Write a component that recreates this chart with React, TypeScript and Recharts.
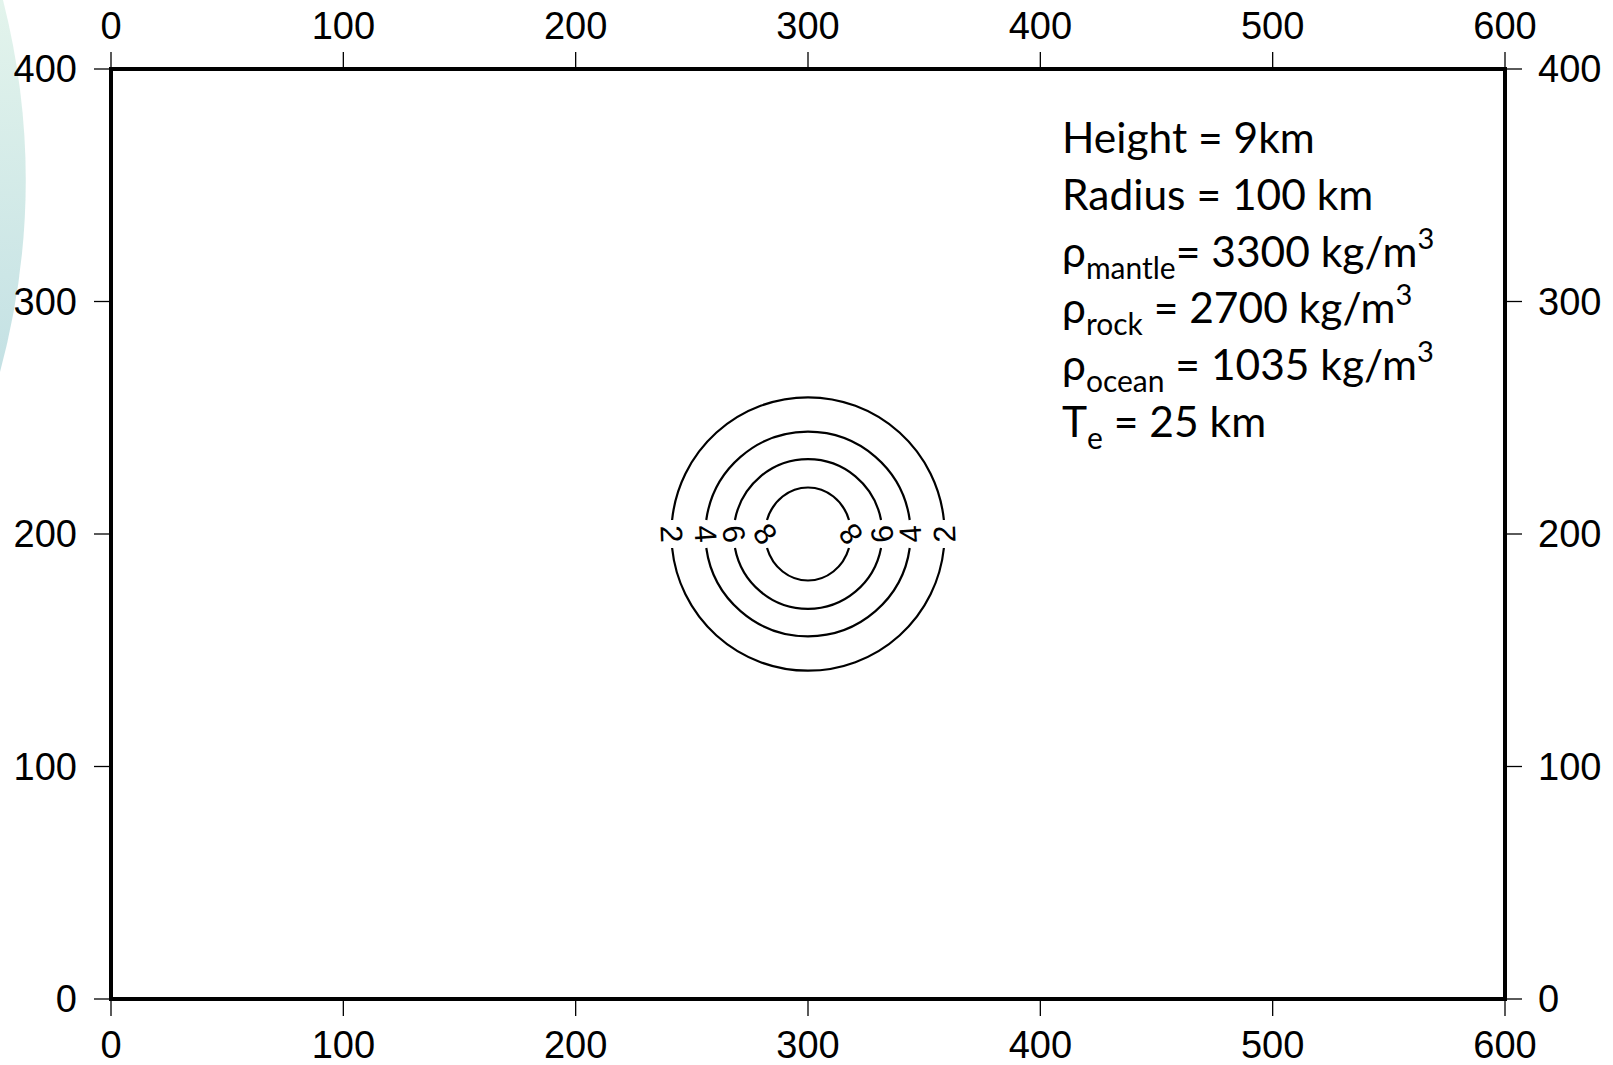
import { Scatter, ScatterChart, XAxis, YAxis } from "recharts";

// axes (km)
const xTicks = [0, 100, 200, 300, 400, 500, 600];
const yTicks = [0, 100, 200, 300, 400];
const xDomain = [0, 600];
const yDomain = [0, 400];

// contours of the seamount (km)
const contourLevels = [2, 4, 6, 8];
const contourRadiusX = [58.8, 44.2, 32, 18.5];
const contourRadiusY = [58.8, 44, 32.2, 20];
const centerX = [300, 300, 300, 300];
const centerY = [200, 200, 200, 200];

const annotationLines = [
  [{ t: "Height = 9km" }],
  [{ t: "Radius = 100 km" }],
  [{ t: "ρ" }, { t: "mantle", sub: true }, { t: "= 3300 kg/m" }, { t: "3", sup: true }],
  [{ t: "ρ" }, { t: "rock", sub: true }, { t: " = 2700 kg/m" }, { t: "3", sup: true }],
  [{ t: "ρ" }, { t: "ocean", sub: true }, { t: " = 1035 kg/m" }, { t: "3", sup: true }],
  [{ t: "T" }, { t: "e", sub: true }, { t: " = 25 km" }],
];

const contours = contourLevels.map((level, i) => ({
  x: centerX[i],
  y: centerY[i],
  level,
  rx: contourRadiusX[i],
  ry: contourRadiusY[i],
}));

const W = 1613;
const H = 1065;
const LEFT_W = 111;
const RIGHT_W = 108;
const TOP_H = 69;
const BOTTOM_H = 66;
const PX_X = (W - LEFT_W - RIGHT_W) / (xDomain[1] - xDomain[0]);
const PX_Y = (H - TOP_H - BOTTOM_H) / (yDomain[1] - yDomain[0]);

const tickFont = { fill: "#000", fontSize: 38, fontFamily: '"Liberation Sans", Arial, sans-serif' };
const frame = { stroke: "#000", strokeWidth: 4, strokeLinecap: "square" as const };
const tickLine = { stroke: "#000", strokeWidth: 1.3 };
// label rotation on the left side of each ring; right side is turned the other way
const labelAngle = [88, 86, 80, 55];

function ContourRing(props: any) {
  const { cx, cy, payload, index } = props;
  const rx = payload.rx * PX_X;
  const ry = payload.ry * PX_Y;
  const gap = 14;
  const dx = rx * Math.sqrt(1 - (gap / ry) ** 2);
  const d =
    `M${cx - dx},${cy - gap} A${rx},${ry} 0 0 1 ${cx + dx},${cy - gap} ` +
    `M${cx + dx},${cy + gap} A${rx},${ry} 0 0 1 ${cx - dx},${cy + gap}`;
  const a = labelAngle[index] ?? 90;
  const lx = cx - rx;
  const rxp = cx + rx;
  const txt = {
    fontSize: 31,
    fontFamily: '"Liberation Sans", Arial, sans-serif',
    fill: "#000",
    textAnchor: "middle" as const,
    dominantBaseline: "central" as const,
  };
  return (
    <g>
      <path d={d} fill="none" stroke="#000" strokeWidth={2.2} />
      <text x={lx} y={cy} transform={`rotate(${a} ${lx} ${cy})`} {...txt}>
        {payload.level}
      </text>
      <text x={rxp} y={cy} transform={`rotate(${a - 180} ${rxp} ${cy})`} {...txt}>
        {payload.level}
      </text>
    </g>
  );
}

const NoMark = () => <g />;

function Annotation() {
  const fs = 42.5;
  return (
    <svg width={W} height={H} style={{ position: "absolute", left: 0, top: 0, pointerEvents: "none" }}>
      {annotationLines.map((segs, i) => (
        <text
          key={i}
          x={1062}
          y={153 + i * 56.8}
          fontSize={fs}
          fontFamily='Lato, "Noto Sans", sans-serif'
          fill="#000"
          style={{ whiteSpace: "pre" }}
        >
          {segs.map((s: any, j) => {
            const prev: any = segs[j - 1];
            let dy = 0;
            if (prev?.sub) dy -= 12;
            if (prev?.sup) dy += 18;
            if (s.sub) dy += 12;
            if (s.sup) dy -= 18;
            return (
              <tspan key={j} dy={dy} fontSize={s.sub ? 30 : s.sup ? 29 : fs}>
                {s.t}
              </tspan>
            );
          })}
        </text>
      ))}
    </svg>
  );
}

export default function App() {
  return (
    <div style={{ position: "absolute", left: 0, top: 0, width: W, height: H, background: "#fff", overflow: "hidden" }}>
      <svg width={W} height={H} style={{ position: "absolute", left: 0, top: 0 }}>
        <defs>
          <linearGradient id="deco" x1="0" y1="0" x2="0" y2="1">
            <stop offset="0" stopColor="#e3f4ec" />
            <stop offset="1" stopColor="#c4e1e4" />
          </linearGradient>
        </defs>
        <path d="M-10,0 L3,0 Q50,186 0,372 L-10,372 Z" fill="url(#deco)" />
      </svg>
      <div style={{ position: "absolute", left: 0, top: 0 }}>
        <ScatterChart width={W} height={H} margin={{ top: 0, right: 0, bottom: 0, left: 0 }}>
          <XAxis
            xAxisId="bottom"
            orientation="bottom"
            type="number"
            dataKey="x"
            domain={xDomain}
            ticks={xTicks}
            interval={0}
            height={BOTTOM_H}
            tickSize={17}
            tickMargin={15}
            tick={tickFont}
            axisLine={frame}
            tickLine={tickLine}
          />
          <XAxis
            xAxisId="top"
            orientation="top"
            type="number"
            dataKey="x"
            domain={xDomain}
            ticks={xTicks}
            interval={0}
            height={TOP_H}
            tickSize={17}
            tickMargin={13}
            tick={tickFont}
            axisLine={frame}
            tickLine={tickLine}
          />
          <YAxis
            yAxisId="left"
            orientation="left"
            type="number"
            dataKey="y"
            domain={yDomain}
            ticks={yTicks}
            interval={0}
            width={LEFT_W}
            tickSize={17}
            tickMargin={17}
            tick={tickFont}
            axisLine={frame}
            tickLine={tickLine}
          />
          <YAxis
            yAxisId="right"
            orientation="right"
            type="number"
            dataKey="y"
            domain={yDomain}
            ticks={yTicks}
            interval={0}
            width={RIGHT_W}
            tickSize={17}
            tickMargin={16}
            tick={{ ...tickFont, textAnchor: "start" }}
            axisLine={frame}
            tickLine={tickLine}
          />
          <Scatter
            data={contours}
            xAxisId="bottom"
            yAxisId="left"
            shape={ContourRing}
            isAnimationActive={false}
          />
          <Scatter
            data={contours}
            xAxisId="top"
            yAxisId="right"
            shape={NoMark}
            isAnimationActive={false}
          />
        </ScatterChart>
      </div>
      <Annotation />
    </div>
  );
}
